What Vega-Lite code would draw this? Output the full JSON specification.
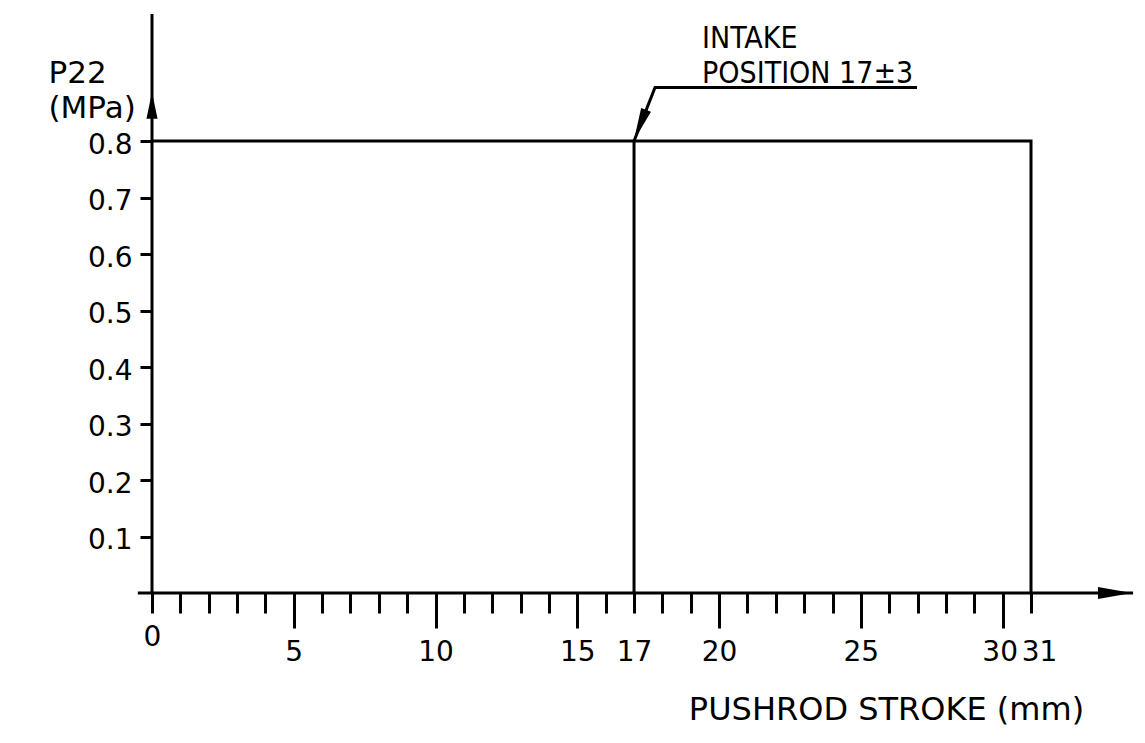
{
  "$schema": "https://vega.github.io/schema/vega-lite/v6.json",
  "autosize": {"type": "none"},
  "padding": {"left": 152, "top": 141, "right": 114, "bottom": 150},
  "width": 879,
  "height": 452,
  "background": "white",
  "config": {"view": {"stroke": null}},
  "datasets": {
    "curve": [
      {"x": 0, "y": 0.8, "seq": 1},
      {"x": 31, "y": 0.8, "seq": 2},
      {"x": 31, "y": 0, "seq": 3}
    ],
    "intake": [{"x": 17, "y": 0, "y2": 0.8}],
    "axisLines": [
      {"x": -0.5, "y": 0, "x2": 34.6, "y2": 0},
      {"x": 0, "y": 0, "x2": 0, "y2": 1.025}
    ],
    "xArrow": [{"x": 33.96, "y": 0}],
    "yArrow": [{"x": 0, "y": 0.863}],
    "leader": [
      {"x": 26.98, "y": 0.8946, "seq": 1},
      {"x": 17.74, "y": 0.8946, "seq": 2},
      {"x": 17, "y": 0.8, "seq": 3}
    ],
    "leaderArrow": [{"x": 17.21, "y": 0.828}],
    "notes": [
      {"x": 19.4, "y": 0.9653, "text": "INTAKE"},
      {"x": 19.4, "y": 0.9034, "text": "POSITION 17±3"}
    ]
  },
  "encoding": {
    "x": {
      "field": "x",
      "type": "quantitative",
      "scale": {"domain": [0, 31], "nice": false, "zero": false},
      "axis": {
        "orient": "bottom",
        "values": [0,1,2,3,4,5,6,7,8,9,10,11,12,13,14,15,16,17,18,19,20,21,22,23,24,25,26,27,28,29,30,31],
        "domain": false,
        "grid": false,
        "tickSize": {"condition": {"test": "datum.value % 5 === 0 && datum.value > 0", "value": 35}, "value": 20},
        "tickWidth": 3,
        "tickColor": "black",
        "labelExpr": "indexof([0,5,10,15,17,20,25,30,31], datum.value) >= 0 ? datum.label : ''",
        "labelFont": "DejaVu Sans",
        "labelFontSize": 28,
        "labelColor": "black",
        "labelPadding": {"condition": {"test": "datum.value === 17 || datum.value === 31", "value": 25}, "value": 10},
        "labelOffset": {"condition": [{"test": "datum.value === 30", "value": -3}, {"test": "datum.value === 31", "value": 8}], "value": 0},
        "labelBaseline": "top",
        "labelOverlap": false,
        "labelFlush": false,
        "title": "PUSHROD  STROKE  (mm)",
        "titleFont": "DejaVu Sans",
        "titleFontSize": 32,
        "titleFontWeight": "normal",
        "titleColor": "black",
        "titleAnchor": null,
        "titleAlign": "center",
        "titleBaseline": "alphabetic",
        "titleX": 734,
        "titleY": 126
      }
    },
    "y": {
      "field": "y",
      "type": "quantitative",
      "scale": {"domain": [0, 0.8], "nice": false, "zero": false},
      "axis": {
        "orient": "left",
        "values": [0.1,0.2,0.3,0.4,0.5,0.6,0.7,0.8],
        "format": ".1f",
        "domain": false,
        "grid": false,
        "tickSize": 12,
        "tickWidth": 3,
        "tickColor": "black",
        "labelFont": "DejaVu Sans",
        "labelFontSize": 28,
        "labelColor": "black",
        "labelPadding": 8,
        "labelOffset": 4,
        "title": ["P22", "(MPa)"],
        "titleFont": "DejaVu Sans",
        "titleFontSize": 31,
        "titleFontWeight": "normal",
        "titleColor": "black",
        "titleAngle": 0,
        "titleAnchor": null,
        "titleAlign": "left",
        "titleBaseline": "alphabetic",
        "titleLineHeight": 35,
        "titleX": -104,
        "titleY": -59
      }
    }
  },
  "layer": [
    {
      "data": {"name": "axisLines"},
      "mark": {"type": "rule", "color": "black", "strokeWidth": 3, "clip": false},
      "encoding": {"x2": {"field": "x2"}, "y2": {"field": "y2"}}
    },
    {
      "data": {"name": "curve"},
      "mark": {"type": "line", "color": "black", "strokeWidth": 3, "strokeJoin": "miter", "clip": false},
      "encoding": {"order": {"field": "seq", "type": "quantitative"}}
    },
    {
      "data": {"name": "intake"},
      "mark": {"type": "rule", "color": "black", "strokeWidth": 3},
      "encoding": {"y2": {"field": "y2"}}
    },
    {
      "data": {"name": "leader"},
      "mark": {"type": "line", "color": "black", "strokeWidth": 3, "strokeJoin": "miter", "clip": false},
      "encoding": {"order": {"field": "seq", "type": "quantitative"}}
    },
    {
      "data": {"name": "xArrow"},
      "mark": {"type": "point", "shape": "M 1 0 L -1 -0.36 L -1 0.36 Z", "size": 1156, "filled": true, "color": "black", "opacity": 1, "clip": false}
    },
    {
      "data": {"name": "yArrow"},
      "mark": {"type": "point", "shape": "M 1 0 L -1 -0.42 L -1 0.42 Z", "size": 700, "angle": -90, "filled": true, "color": "black", "opacity": 1, "clip": false}
    },
    {
      "data": {"name": "leaderArrow"},
      "mark": {"type": "point", "shape": "M 1 0 L -1 -0.32 L -1 0.32 Z", "size": 1089, "angle": 111.6, "filled": true, "color": "black", "opacity": 1, "clip": false}
    },
    {
      "data": {"name": "notes"},
      "mark": {"type": "text", "align": "left", "baseline": "alphabetic", "font": "DejaVu Sans Condensed, Liberation Sans Narrow", "fontSize": 30, "color": "black", "clip": false},
      "encoding": {"text": {"field": "text", "type": "nominal"}}
    }
  ]
}
